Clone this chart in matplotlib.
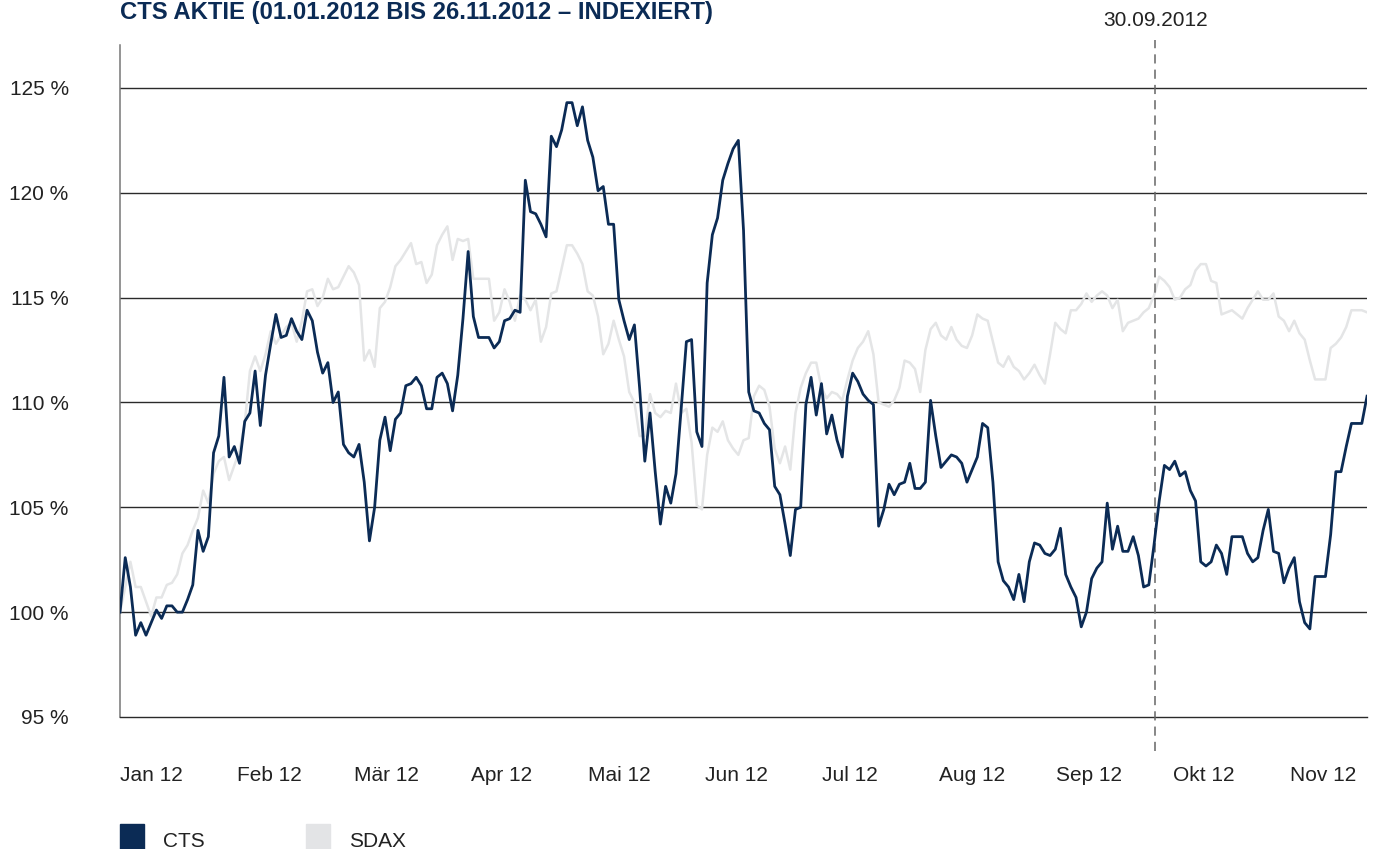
import numpy as np
import matplotlib.pyplot as plt
from matplotlib.patches import Rectangle

plt.rcParams['font.family'] = ['Liberation Sans', 'DejaVu Sans']

# Indexed performance, 01.01.2012 = 100 %
cts = [
    100.0, 102.6, 101.2, 98.9, 99.5, 98.9, 99.5, 100.1, 99.7, 100.3,
    100.3, 100.0, 100.0, 100.6, 101.3, 103.9, 102.9, 103.6, 107.6, 108.4,
    111.2, 107.4, 107.9, 107.1, 109.1, 109.5, 111.5, 108.9, 111.3, 112.8,
    114.2, 113.1, 113.2, 114.0, 113.4, 113.0, 114.4, 113.9, 112.4, 111.4,
    111.9, 110.0, 110.5, 108.0, 107.6, 107.4, 108.0, 106.2, 103.4, 105.0,
    108.2, 109.3, 107.7, 109.2, 109.5, 110.8, 110.9, 111.2, 110.8, 109.7,
    109.7, 111.2, 111.4, 110.9, 109.6, 111.3, 114.0, 117.2, 114.1, 113.1,
    113.1, 113.1, 112.6, 112.9, 113.9, 114.0, 114.4, 114.3, 120.6, 119.1,
    119.0, 118.5, 117.9, 122.7, 122.2, 123.0, 124.3, 124.3, 123.2, 124.1,
    122.5, 121.7, 120.1, 120.3, 118.5, 118.5, 114.9, 113.9, 113.0, 113.7,
    110.7, 107.2, 109.5, 106.7, 104.2, 106.0, 105.2, 106.6, 109.7, 112.9,
    113.0, 108.6, 107.9, 115.7, 118.0, 118.8, 120.6, 121.4, 122.1, 122.5,
    118.2, 110.5, 109.6, 109.5, 109.0, 108.7, 106.0, 105.6, 104.2, 102.7,
    104.9, 105.0, 109.9, 111.2, 109.4, 110.9, 108.5, 109.4, 108.2, 107.4,
    110.3, 111.4, 111.0, 110.4, 110.1, 109.9, 104.1, 104.9, 106.1, 105.6,
    106.1, 106.2, 107.1, 105.9, 105.9, 106.2, 110.1, 108.4, 106.9, 107.2,
    107.5, 107.4, 107.1, 106.2, 106.8, 107.4, 109.0, 108.8, 106.2, 102.4,
    101.5, 101.2, 100.6, 101.8, 100.5, 102.4, 103.3, 103.2, 102.8, 102.7,
    103.0, 104.0, 101.8, 101.2, 100.7, 99.3, 100.0, 101.6, 102.1, 102.4,
    105.2, 103.0, 104.1, 102.9, 102.9, 103.6, 102.7, 101.2, 101.3, 103.2,
    105.3, 107.0, 106.8, 107.2, 106.5, 106.7, 105.8, 105.3, 102.4, 102.2,
    102.4, 103.2, 102.8, 101.8, 103.6, 103.6, 103.6, 102.8, 102.4, 102.6,
    103.9, 104.9, 102.9, 102.8, 101.4, 102.1, 102.6, 100.5, 99.5, 99.2,
    101.7, 101.7, 101.7, 103.7, 106.7, 106.7, 107.9, 109.0, 109.0, 109.0,
    110.3,
]

sdax = [
    100.0, 101.2, 102.4, 101.2, 101.2, 100.5, 99.8, 100.7, 100.7, 101.3,
    101.4, 101.8, 102.8, 103.2, 103.9, 104.5, 105.8, 105.2, 106.6, 107.2,
    107.4, 106.3, 107.0, 107.7, 109.0, 111.5, 112.2, 111.5, 112.3, 113.4,
    112.8, 113.2, 113.6, 113.8, 112.9, 113.9, 115.3, 115.4, 114.6, 115.0,
    115.9, 115.4, 115.5, 116.0, 116.5, 116.2, 115.6, 112.0, 112.5, 111.7,
    114.5, 114.8, 115.5, 116.5, 116.8, 117.2, 117.6, 116.6, 116.7, 115.7,
    116.1, 117.5, 118.0, 118.4, 116.8, 117.8, 117.7, 117.8, 115.9, 115.9,
    115.9, 115.9, 113.9, 114.3, 115.4, 114.8, 113.9, 115.1, 114.9, 114.4,
    114.9, 112.9, 113.6, 115.2, 115.3, 116.4, 117.5, 117.5, 117.1, 116.6,
    115.3, 115.1, 114.1, 112.3, 112.8, 113.9, 113.0, 112.2, 110.5, 110.0,
    108.4, 108.4, 110.4, 109.5, 109.3, 109.6, 109.5, 110.9, 109.5, 109.7,
    108.1, 105.1, 104.9, 107.5, 108.8, 108.6, 109.1, 108.2, 107.8, 107.5,
    108.2, 108.3, 110.3, 110.8, 110.6, 109.8, 107.8, 107.1, 107.9, 106.8,
    109.5, 110.7, 111.4, 111.9, 111.9, 110.7, 110.2, 110.5, 110.4, 110.1,
    111.1, 112.0, 112.6, 112.9, 113.4, 112.3, 110.0, 109.9, 109.8, 110.1,
    110.7, 112.0, 111.9, 111.6, 110.5, 112.5, 113.5, 113.8, 113.2, 113.0,
    113.6, 113.0, 112.7, 112.6, 113.2, 114.2, 114.0, 113.9, 112.9, 111.9,
    111.7, 112.2, 111.7, 111.5, 111.1, 111.4, 111.8, 111.3, 110.9, 112.3,
    113.8, 113.5, 113.3, 114.4, 114.4, 114.7, 115.2, 114.8, 115.1, 115.3,
    115.1, 114.5, 114.9, 113.4, 113.8, 113.9, 114.0, 114.3, 114.5, 115.1,
    116.0, 115.8, 115.5, 114.9, 115.0, 115.4, 115.6, 116.3, 116.6, 116.6,
    115.8, 115.7, 114.2, 114.3, 114.4, 114.2, 114.0, 114.5, 114.9, 115.3,
    114.9, 114.9, 115.2, 114.1, 113.9, 113.4, 113.9, 113.3, 113.0, 112.0,
    111.1, 111.1, 111.1, 112.6, 112.8, 113.1, 113.6, 114.4, 114.4, 114.4,
    114.3,
]

month_labels = ['Jan 12', 'Feb 12', 'Mär 12', 'Apr 12', 'Mai 12', 'Jun 12',
                'Jul 12', 'Aug 12', 'Sep 12', 'Okt 12', 'Nov 12']
y_ticks = [95, 100, 105, 110, 115, 120, 125]

navy = '#0b2b55'
light = '#e4e5e6'
text_col = '#222222'

# days since 01.01.2012, up to 26.11.2012
days = np.linspace(0, 330, len(cts))

fig = plt.figure(figsize=(13.75, 8.49), dpi=100)
ax = fig.add_axes([0.0873, 0.1555, 0.9069, 0.7915])

for v in y_ticks[1:]:
    ax.axhline(v, color='#2a2a2a', lw=1.0, zorder=1)

ax.plot(days, sdax, color=light, lw=1.8, zorder=2)
ax.axvline(274, ymin=-0.05, ymax=1.008, color='#666666', lw=1.1,
           dashes=(6, 4), clip_on=False, zorder=3)
ax.plot(days, cts, color=navy, lw=2.0, zorder=4)

ax.set_xlim(0, 330)
ax.set_ylim(95, 127.05)

ax.spines['top'].set_visible(False)
ax.spines['right'].set_visible(False)
ax.spines['left'].set_color('#777777')
ax.spines['left'].set_linewidth(1.1)
ax.spines['bottom'].set_color('#2a2a2a')
ax.spines['bottom'].set_linewidth(1.0)

ax.set_yticks(y_ticks)
ax.set_yticklabels([f'{v} %' for v in y_ticks])
ax.tick_params(axis='y', length=0, pad=37, labelsize=15, labelcolor=text_col)

ax.set_xticks(np.arange(len(month_labels)) * 30.95)
ax.set_xticklabels(month_labels)
for lab in ax.get_xticklabels():
    lab.set_ha('left')
ax.tick_params(axis='x', length=0, pad=35, labelsize=15, labelcolor=text_col)

ax.text(274, 1.037, '30.09.2012', transform=ax.get_xaxis_transform(),
        ha='center', va='center', fontsize=15, color=text_col)

fig.text(120 / 1375, 1 - 19 / 849,
         'CTS AKTIE (01.01.2012 BIS 26.11.2012 – INDEXIERT)',
         fontsize=17.2, fontweight='bold', color=navy, ha='left', va='baseline')

# legend
for x0, col, name in [(120, navy, 'CTS'), (306, '#e3e4e6', 'SDAX')]:
    fig.patches.append(Rectangle((x0 / 1375, 0), 24 / 1375, 25 / 849,
                                 transform=fig.transFigure, color=col))
    fig.text((x0 + 43) / 1375, 2 / 849, name, fontsize=15, color=text_col,
             ha='left', va='baseline')

fig.savefig('out.png', dpi=100)
